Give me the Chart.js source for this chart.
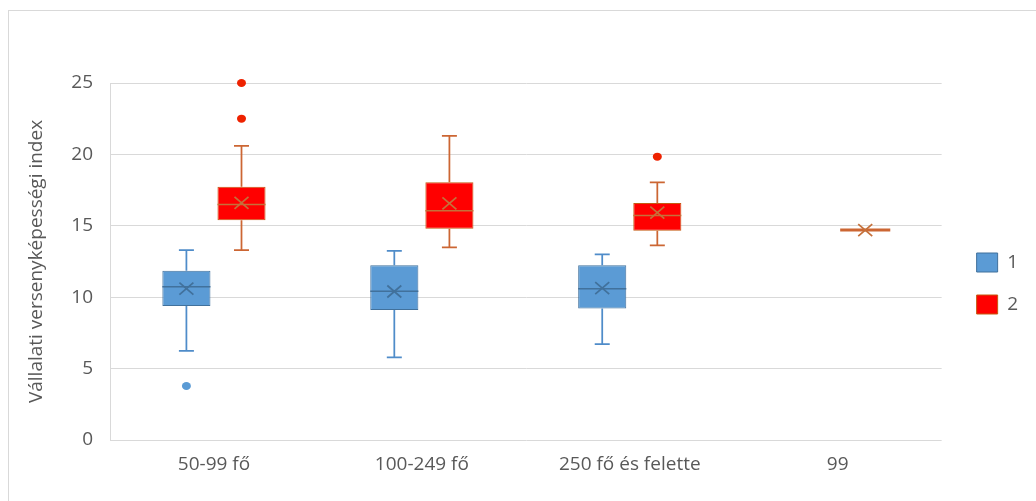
<!DOCTYPE html>
<html>
<head>
<meta charset="utf-8">
<script src="https://cdn.jsdelivr.net/npm/chart.js@4/dist/chart.umd.min.js"></script>
<style>
  html, body { margin: 0; padding: 0; background: #ffffff; }
  #wrap { position: relative; width: 1036px; height: 501px; overflow: hidden; }
  #frame { position: absolute; left: 8px; top: 10px; width: 1100px; height: 600px;
           border: 1px solid #d9d9d9; box-sizing: border-box; }
  canvas { position: absolute; left: 0; top: 0; }
</style>
</head>
<body>
<div id="wrap">
  <div id="frame"></div>
  <canvas id="chart" width="1036" height="501"></canvas>
</div>
<script>
// Categories (company size groups)
const categories = ['50-99 fő', '100-249 fő', '250 fő és felette', '99'];

// Series "1": five-number summary, mean and outliers per category
const s1Min    = [6.25, 5.79, 6.72, null];
const s1Q1     = [9.38, 9.10, 9.20, null];
const s1Median = [10.74, 10.41, 10.60, null];
const s1Q3     = [11.86, 12.23, 12.23, null];
const s1Max    = [13.30, 13.24, 13.00, null];
const s1Mean   = [10.60, 10.40, 10.64, null];
const s1Outliers = [[3.78], [], [], []];

// Series "2"
const s2Min    = [13.30, 13.49, 13.63, 14.70];
const s2Q1     = [15.38, 14.80, 14.66, 14.70];
const s2Median = [16.50, 16.06, 15.73, 14.70];
const s2Q3     = [17.74, 18.05, 16.60, 14.70];
const s2Max    = [20.60, 21.30, 18.04, 14.70];
const s2Mean   = [16.60, 16.57, 15.92, 14.70];
const s2Outliers = [[25.0, 22.5], [], [19.84], []];

// Y axis ticks
const yTicks = [0, 5, 10, 15, 20, 25];

const FONT = { family: 'Open Sans', size: 19 };
const TEXT = '#595959';
const GRID = '#d9d9d9';

// Box spans from Q1 to Q3 as floating bars
const boxRange = (q1, q3) => q1.map((v, i) => (v == null ? null : [v, q3[i]]));

// Draws whiskers, caps, median, mean marker and outliers on top of the boxes
const boxWhiskerPlugin = {
  id: 'boxWhisker',
  afterDatasetsDraw(chart) {
    const ctx = chart.ctx;
    const ys = chart.scales.y;
    chart.data.datasets.forEach((ds, di) => {
      const st = ds.stats;
      const meta = chart.getDatasetMeta(di);
      meta.data.forEach((bar, i) => {
        if (st.q1[i] == null) return;
        const x = bar.x;
        const half = bar.width / 2;
        const pMin = ys.getPixelForValue(st.min[i]);
        const pQ1 = ys.getPixelForValue(st.q1[i]);
        const pMed = ys.getPixelForValue(st.median[i]);
        const pQ3 = ys.getPixelForValue(st.q3[i]);
        const pMax = ys.getPixelForValue(st.max[i]);
        const pMean = ys.getPixelForValue(st.mean[i]);
        const cap = 7.5;
        ctx.save();
        ctx.lineCap = 'butt';
        if (st.q1[i] === st.q3[i]) {
          // single-value group: the box collapses into one line
          ctx.strokeStyle = st.whisker;
          ctx.lineWidth = 3;
          ctx.beginPath();
          ctx.moveTo(x - half - 1, pMed);
          ctx.lineTo(x + half + 1, pMed);
          ctx.stroke();
        } else {
          ctx.strokeStyle = st.whisker;
          ctx.lineWidth = 1.75;
          ctx.beginPath();
          ctx.moveTo(x, pQ3); ctx.lineTo(x, pMax);
          ctx.moveTo(x - cap, pMax); ctx.lineTo(x + cap, pMax);
          ctx.moveTo(x, pQ1); ctx.lineTo(x, pMin);
          ctx.moveTo(x - cap, pMin); ctx.lineTo(x + cap, pMin);
          ctx.stroke();
          // median
          ctx.strokeStyle = st.inner;
          ctx.lineWidth = 1.5;
          ctx.beginPath();
          ctx.moveTo(x - half, pMed); ctx.lineTo(x + half, pMed);
          ctx.stroke();
        }
        // mean marker (x)
        ctx.strokeStyle = st.inner;
        ctx.lineWidth = 1.75;
        const m = 7;
        ctx.beginPath();
        ctx.moveTo(x - m, pMean - m + 1); ctx.lineTo(x + m, pMean + m - 1);
        ctx.moveTo(x + m, pMean - m + 1); ctx.lineTo(x - m, pMean + m - 1);
        ctx.stroke();
        // outliers
        ctx.fillStyle = st.dot;
        st.outliers[i].forEach(v => {
          const py = ys.getPixelForValue(v);
          ctx.beginPath();
          ctx.ellipse(x, py, 4.5, 4, 0, 0, Math.PI * 2);
          ctx.fill();
        });
        ctx.restore();
      });
    });
  }
};

new Chart(document.getElementById('chart'), {
  type: 'bar',
  data: {
    labels: categories,
    datasets: [
      {
        label: '1',
        data: boxRange(s1Q1, s1Q3),
        backgroundColor: '#5B9BD5',
        borderColor: '#41719C',
        borderWidth: 1,
        borderSkipped: false,
        stats: { min: s1Min, q1: s1Q1, median: s1Median, q3: s1Q3, max: s1Max,
                 mean: s1Mean, outliers: s1Outliers,
                 whisker: '#4F8CC9', inner: '#41719C', dot: '#5B9BD5' }
      },
      {
        label: '2',
        data: boxRange(s2Q1, s2Q3),
        backgroundColor: '#FF0000',
        borderColor: '#C55A11',
        borderWidth: 1,
        borderSkipped: false,
        stats: { min: s2Min, q1: s2Q1, median: s2Median, q3: s2Q3, max: s2Max,
                 mean: s2Mean, outliers: s2Outliers,
                 whisker: '#CC6633', inner: '#C5703A', dot: '#EE2200' }
      }
    ]
  },
  options: {
    responsive: false,
    animation: false,
    events: [],
    layout: { padding: { left: 0, top: 83, right: 8, bottom: 17 } },
    datasets: { bar: { categoryPercentage: 0.53, barPercentage: 0.873 } },
    scales: {
      x: {
        grid: { display: false, drawTicks: false },
        border: { display: false },
        ticks: { font: FONT, color: TEXT, padding: 13 },
        afterFit: s => { s.height = 44; }
      },
      y: {
        min: 0,
        max: 25,
        afterBuildTicks: s => { s.ticks = yTicks.map(v => ({ value: v })); },
        ticks: { font: FONT, color: TEXT, padding: 17 },
        grid: { color: GRID, lineWidth: 1, drawTicks: false },
        border: { display: true, color: GRID },
        title: {
          display: true,
          text: 'Vállalati versenyképességi index',
          font: FONT,
          color: TEXT,
          padding: { top: 25, bottom: 0 }
        },
        afterFit: s => { s.width = 110; }
      },
      gap: {
        type: 'linear',
        position: 'right',
        display: true,
        grid: { display: false },
        border: { display: false },
        ticks: { display: false },
        afterFit: s => { s.width = 12; }
      }
    },
    plugins: {
      legend: {
        position: 'right',
        labels: { font: FONT, color: TEXT, boxWidth: 21, boxHeight: 19, padding: 23 }
      },
      tooltip: { enabled: false }
    }
  },
  plugins: [boxWhiskerPlugin]
});
</script>
</body>
</html>
